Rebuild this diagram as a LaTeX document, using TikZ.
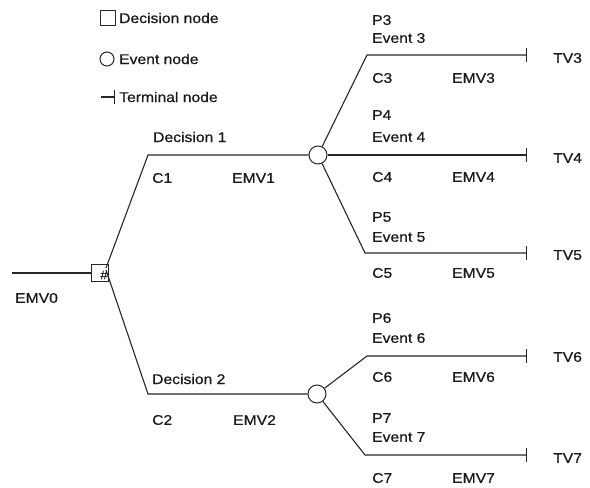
\documentclass[tikz,border=0pt]{standalone}
\usepackage{fontspec}
\setmainfont{Liberation Sans}[FakeStretch=1.12,FakeBold=0.6]
\usetikzlibrary{arrows.meta}
\begin{document}
\begin{tikzpicture}[x=1pt,y=-1pt,
  line/.style={line width=1.1pt, draw=black!85},
  term/.style={line, -{Bar[width=14pt,line width=1.1pt]}},
  lbl/.style={anchor=west, inner sep=0pt, font=\fontsize{14}{16}\selectfont, text=black!90},
  dnode/.style={draw=black!85, line width=1pt, minimum size=17pt, inner sep=0pt},
  enode/.style={circle, draw=black!85, line width=1pt, minimum size=18pt, inner sep=0pt}]
\useasboundingbox (0,0) rectangle (590,488);
% legend
\node[dnode, minimum size=15pt] (lgd) at (108,18) {};
\node[lbl] (lgdt) at (119,18) {Decision node};
\node[enode, minimum size=14pt] (lge) at (107,59) {};
\node[lbl] (lget) at (119,59) {Event node};
\coordinate (lgta) at (101,97);
\coordinate (lgtb) at (115,97);
\draw[term] (lgta) -- (lgtb);
\node[lbl] (lgtt) at (119,97) {Terminal node};
% nodes
\node[dnode] (dn) at (100,273) {};
\node[inner sep=0pt, font=\fontsize{12}{12}\selectfont, text=black!90] (hash) at (104,275) {\#};
\node[enode] (ev1) at (318,155) {};
\node[enode] (ev2) at (317,394) {};
\coordinate (in) at (12,273);
\coordinate (d1s) at (106,268);
\coordinate (d2s) at (106,270);
\coordinate (k1) at (148,155);
\coordinate (k2) at (148,394);
\coordinate (b3) at (367,55);  \coordinate (t3) at (527,55);
\coordinate (t4) at (527,155);
\coordinate (b5) at (365,253); \coordinate (t5) at (527,253);
\coordinate (b6) at (367,356); \coordinate (t6) at (527,356);
\coordinate (b7) at (365,455); \coordinate (t7) at (527,455);
% connectors
\draw[line] (in) -- (dn);
\draw[line] (d1s) -- (k1) -- (ev1);
\draw[line] (d2s) -- (k2) -- (ev2);
\draw[term] (ev1) -- (b3) -- (t3);
\draw[term] (ev1) -- (t4);
\draw[term] (ev1) -- (b5) -- (t5);
\draw[term] (ev2) -- (b6) -- (t6);
\draw[term] (ev2) -- (b7) -- (t7);
% labels
\node[lbl] (l-emv0) at (15,298) {EMV0};
\node[lbl] (l-d1) at (153,137) {Decision 1};
\node[lbl] (l-c1) at (152,178) {C1};
\node[lbl] (l-emv1) at (232,178) {EMV1};
\node[lbl] (l-d2) at (152,379) {Decision 2};
\node[lbl] (l-c2) at (152,420) {C2};
\node[lbl] (l-emv2) at (233,420) {EMV2};
\node[lbl] (l-p3) at (372,20) {P3};
\node[lbl] (l-e3) at (372,38) {Event 3};
\node[lbl] (l-c3) at (372,78) {C3};
\node[lbl] (l-emv3) at (452,78) {EMV3};
\node[lbl] (l-tv3) at (553,58) {TV3};
\node[lbl] (l-p4) at (372,115) {P4};
\node[lbl] (l-e4) at (372,137) {Event 4};
\node[lbl] (l-c4) at (372,177) {C4};
\node[lbl] (l-emv4) at (452,177) {EMV4};
\node[lbl] (l-tv4) at (553,158) {TV4};
\node[lbl] (l-p5) at (372,217) {P5};
\node[lbl] (l-e5) at (372,237) {Event 5};
\node[lbl] (l-c5) at (372,273) {C5};
\node[lbl] (l-emv5) at (452,273) {EMV5};
\node[lbl] (l-tv5) at (553,255) {TV5};
\node[lbl] (l-p6) at (372,318) {P6};
\node[lbl] (l-e6) at (372,338) {Event 6};
\node[lbl] (l-c6) at (372,377) {C6};
\node[lbl] (l-emv6) at (452,377) {EMV6};
\node[lbl] (l-tv6) at (553,357) {TV6};
\node[lbl] (l-p7) at (372,418) {P7};
\node[lbl] (l-e7) at (372,437) {Event 7};
\node[lbl] (l-c7) at (372,478) {C7};
\node[lbl] (l-emv7) at (452,478) {EMV7};
\node[lbl] (l-tv7) at (553,458) {TV7};
\end{tikzpicture}
\end{document}
